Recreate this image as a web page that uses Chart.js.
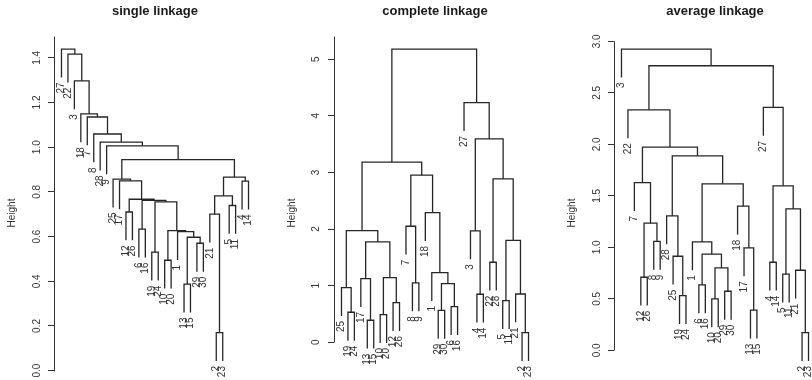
<!DOCTYPE html>
<html lang="en">
<head>
<meta charset="UTF-8">
<title>Cluster dendrograms: single, complete and average linkage</title>
<script src="https://cdn.jsdelivr.net/npm/chart.js"></script>
<style>
    body {
        margin: 0;
        background: #fff;
        overflow: hidden;
        width: 812px;
        height: 380px;
        position: relative;
    }
    canvas {
        position: absolute;
        top: 0;
    }
</style>
</head>
<body>
<canvas id="single" width="280" height="380" style="left:0px"></canvas>
<canvas id="complete" width="280" height="380" style="left:280px"></canvas>
<canvas id="average" width="280" height="380" style="left:560px"></canvas>
<script>
// merge tables the way hclust stores them:
// negative number = observation, positive number = row of an earlier merge (1-based)
const singleMerge = [
    [-2, -23], [-13, -15], [-10, -20], [-19, -24], [-29, -30], [2, 5], [-1, 6], [3, 7],
    [-6, -16], [-21, 1], [-12, -26], [-5, -11], [4, 8], [9, 13], [11, 14], [10, 12],
    [-17, 15], [-4, -14], [-25, 17], [16, 18], [19, 20], [-9, 21], [-28, 22], [-8, 23],
    [-7, 24], [-18, 25], [-3, 26], [-22, 27], [-27, 28]
];
const singleHeight = [
    0.170, 0.387, 0.494, 0.530, 0.570, 0.597, 0.622, 0.627,
    0.633, 0.700, 0.710, 0.739, 0.755, 0.762, 0.767, 0.782,
    0.849, 0.848, 0.857, 0.866, 0.944, 1.006, 1.023, 1.059,
    1.135, 1.149, 1.297, 1.416, 1.439
];
const singleOrder = [27, 22, 3, 18, 7, 8, 28, 9, 25, 17, 12, 26, 6, 16, 19, 24, 10, 20, 1, 13,
    15, 29, 30, 21, 2, 23, 5, 11, 4, 14];
const singleTicks = [0, 0.2, 0.4, 0.6, 0.8, 1.0, 1.2, 1.4];
const singleTickLabels = ['0.0', '0.2', '0.4', '0.6', '0.8', '1.0', '1.2', '1.4'];

const completeMerge = [
    [-2, -23], [-13, -15], [-10, -20], [-19, -24], [-29, -30], [-6, -16], [-12, -26], [-5, -11],
    [-4, -14], [-21, 1], [-25, 4], [5, 6], [-8, -9], [-17, 2], [3, 7], [-1, 12],
    [-22, -28], [14, 15], [8, 10], [-3, 9], [11, 18], [-7, 13], [-18, 16], [17, 19],
    [22, 23], [21, 25], [20, 24], [-27, 27], [26, 28]
];
const completeHeight = [
    0.170, 0.389, 0.488, 0.530, 0.565, 0.629, 0.700, 0.735,
    0.848, 0.853, 0.965, 1.035, 1.048, 1.124, 1.141, 1.230,
    1.413, 1.772, 1.800, 1.966, 1.972, 2.049, 2.290, 2.885,
    2.950, 3.180, 3.590, 4.233, 5.177
];
const completeOrder = [25, 19, 24, 17, 13, 15, 10, 20, 12, 26, 7, 8, 9, 18, 1, 29, 30, 6, 16, 27,
    3, 4, 14, 22, 28, 5, 11, 21, 2, 23];
const completeTicks = [0, 1, 2, 3, 4, 5];
const completeTickLabels = ['0', '1', '2', '3', '4', '5'];

const averageMerge = [
    [-2, -23], [-13, -15], [-10, -20], [-19, -24], [-29, -30], [-6, -16], [-12, -26], [-5, -11],
    [-21, 1], [3, 5], [-4, -14], [-25, 4], [6, 10], [-17, 2], [-1, 13], [-8, -9],
    [7, 16], [-28, 12], [8, 9], [-18, 14], [11, 19], [15, 20], [-7, 17], [18, 22],
    [23, 24], [-22, 25], [-27, 21], [26, 27], [-3, 28]
];
const averageHeight = [
    0.171, 0.389, 0.499, 0.531, 0.573, 0.635, 0.709, 0.739,
    0.777, 0.800, 0.855, 0.913, 0.933, 0.994, 1.052, 1.057,
    1.234, 1.305, 1.373, 1.399, 1.597, 1.616, 1.629, 1.888,
    1.973, 2.335, 2.358, 2.763, 2.925
];
const averageOrder = [3, 22, 7, 12, 26, 8, 9, 28, 25, 19, 24, 1, 6, 16, 10, 20, 29, 30, 18, 17,
    13, 15, 27, 4, 14, 5, 11, 21, 2, 23];
const averageTicks = [0, 0.5, 1.0, 1.5, 2.0, 2.5, 3.0];
const averageTickLabels = ['0.0', '0.5', '1.0', '1.5', '2.0', '2.5', '3.0'];

Chart.defaults.font.family = '"Liberation Sans", Arial, sans-serif';
Chart.defaults.color = '#333';

// turn a merge table into U-shaped segments and hanging leaves
function buildTree(merge, height, order) {
    const hang = 0.1 * (Math.max(...height) - Math.min(...height));
    const pos = {};
    order.forEach((id, i) => { pos[id] = i + 1; });
    const nodeX = [];
    const segs = [];
    const leaves = [];
    const child = (c, h) => {
        if (c < 0) {
            const lx = pos[-c];
            leaves.push({ label: String(-c), x: lx, y: h - hang });
            return { x: lx, y: h - hang };
        }
        return { x: nodeX[c - 1], y: height[c - 1] };
    };
    merge.forEach(([a, b], i) => {
        const h = height[i];
        const A = child(a, h);
        const B = child(b, h);
        nodeX[i] = (A.x + B.x) / 2;
        segs.push([{ x: A.x, y: A.y }, { x: A.x, y: h }, { x: B.x, y: h }, { x: B.x, y: B.y }]);
    });
    return { segs, leaves, n: order.length };
}

function drawDendrogram(id, title, merge, height, order, ticks, tickLabels, tickPad, axisToTop) {
    const tree = buildTree(merge, height, order);
    const lo = Math.min(...tree.leaves.map(l => l.y));
    const hi = Math.max(...height);
    const span = hi - lo;
    const xPad = 0.04 * (tree.n - 1);

    const extras = {
        id: 'extras',
        afterDatasetsDraw(chart) {
            const { ctx, chartArea, scales: { x, y } } = chart;
            ctx.save();
            // leaf labels, reading upward, hanging under each leaf
            ctx.fillStyle = '#333';
            ctx.font = '10px "Liberation Sans", Arial, sans-serif';
            ctx.textAlign = 'right';
            ctx.textBaseline = 'middle';
            tree.leaves.forEach(l => {
                ctx.save();
                ctx.translate(x.getPixelForValue(l.x), y.getPixelForValue(l.y) + 5);
                ctx.rotate(-Math.PI / 2);
                ctx.fillText(l.label, 0, 0);
                ctx.restore();
            });
            // y axis line
            const ax = Math.round(chartArea.left) + 0.5;
            const yTop = axisToTop ? chartArea.top : y.getPixelForValue(ticks[ticks.length - 1]);
            ctx.strokeStyle = '#333';
            ctx.lineWidth = 1;
            ctx.beginPath();
            ctx.moveTo(ax, Math.round(y.getPixelForValue(0)) + 0.5);
            ctx.lineTo(ax, yTop);
            ctx.stroke();
            // axis title
            ctx.translate(12, 213);
            ctx.rotate(-Math.PI / 2);
            ctx.textAlign = 'center';
            ctx.font = '10px "Liberation Sans", Arial, sans-serif';
            ctx.fillText('Height', 0, 0);
            ctx.restore();
        }
    };

    new Chart(document.getElementById(id), {
        type: 'scatter',
        data: {
            datasets: tree.segs.map(s => ({
                data: s,
                showLine: true,
                borderColor: '#262626',
                borderWidth: 1.3,
                pointRadius: 0,
                tension: 0,
                fill: false
            }))
        },
        options: {
            responsive: false,
            animation: false,
            events: [],
            devicePixelRatio: 1,
            layout: { padding: { left: 0, right: 24, top: 0, bottom: 6.5 } },
            plugins: {
                legend: { display: false },
                tooltip: { enabled: false },
                title: {
                    display: true,
                    text: title,
                    fullSize: false,
                    color: '#1a1a1a',
                    font: { size: 13, weight: 'bold' },
                    padding: { top: 4, bottom: 17 }
                }
            },
            scales: {
                x: {
                    type: 'linear',
                    display: false,
                    min: 1 - xPad,
                    max: tree.n + xPad
                },
                y: {
                    type: 'linear',
                    min: lo - 0.04 * span,
                    max: hi + 0.04 * span,
                    border: { display: false },
                    grid: {
                        drawOnChartArea: false,
                        drawTicks: true,
                        tickLength: 6,
                        color: '#333',
                        lineWidth: 1
                    },
                    ticks: {
                        autoSkip: false,
                        minRotation: 90,
                        maxRotation: 90,
                        crossAlign: 'center',
                        padding: tickPad,
                        color: '#333',
                        font: { size: 10 },
                        callback: (v) => tickLabels[ticks.indexOf(v)]
                    },
                    afterBuildTicks: (scale) => {
                        scale.ticks = ticks.map(v => ({ value: v }));
                    },
                    afterFit: (scale) => {
                        scale.width = 54;
                        scale.paddingTop = 0;
                        scale.paddingBottom = 0;
                    }
                }
            }
        },
        plugins: [extras]
    });
}

drawDendrogram('single', 'single linkage', singleMerge, singleHeight, singleOrder,
    singleTicks, singleTickLabels, 4, true);
drawDendrogram('complete', 'complete linkage', completeMerge, completeHeight, completeOrder,
    completeTicks, completeTickLabels, 8.5, true);
drawDendrogram('average', 'average linkage', averageMerge, averageHeight, averageOrder,
    averageTicks, averageTickLabels, 4, false);
</script>
</body>
</html>
